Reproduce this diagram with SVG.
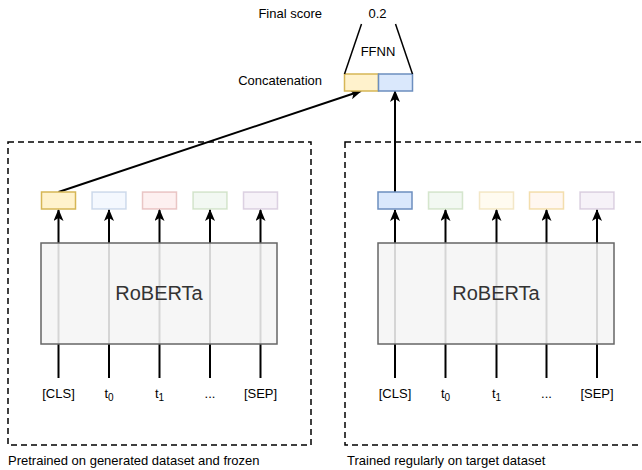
<svg xmlns="http://www.w3.org/2000/svg" width="642" height="470" viewBox="0 0 642 470">
<defs>
<marker id="ah" viewBox="0 0 12 10" refX="11" refY="5" markerWidth="12" markerHeight="10" markerUnits="userSpaceOnUse" orient="auto">
<path d="M0,0 L12,5 L0,10 L3,5 Z" fill="#000"/>
</marker>
</defs>
<style>
text{font-family:"Liberation Sans",Arial,sans-serif;font-size:13px;fill:#000}
.dash{fill:none;stroke:#000;stroke-width:1.5;stroke-dasharray:6 4}
.ln{stroke:#000;stroke-width:2;fill:none}
.arr{stroke:#000;stroke-width:2;fill:none;marker-end:url(#ah)}
.rob{fill:#f5f5f5;fill-opacity:0.87;stroke:#666;stroke-width:1.5}
.robt{font-size:20px;fill:#333;text-anchor:middle}
.tok{text-anchor:middle}
.emb{stroke-width:1.5}
</style>
<g id="frame-left"><rect class="dash" x="8" y="142" width="303" height="303"/><text x="8" y="465">Pretrained on generated dataset and frozen</text></g>
<g id="frame-right"><rect class="dash" x="345" y="142" width="310" height="303"/><text x="347" y="465">Trained regularly on target dataset</text></g>
<g id="connectors">
<line class="ln" x1="58.5" y1="378" x2="58.5" y2="243"/>
<line class="ln" x1="109" y1="378" x2="109" y2="243"/>
<line class="ln" x1="159.5" y1="378" x2="159.5" y2="243"/>
<line class="ln" x1="210" y1="378" x2="210" y2="243"/>
<line class="ln" x1="260.5" y1="378" x2="260.5" y2="243"/>
<line class="ln" x1="395" y1="378" x2="395" y2="243"/>
<line class="ln" x1="445.5" y1="378" x2="445.5" y2="243"/>
<line class="ln" x1="496.5" y1="378" x2="496.5" y2="243"/>
<line class="ln" x1="546.5" y1="378" x2="546.5" y2="243"/>
<line class="ln" x1="597" y1="378" x2="597" y2="243"/>
<line class="arr" x1="58.5" y1="243" x2="58.5" y2="210"/>
<line class="arr" x1="109" y1="243" x2="109" y2="210"/>
<line class="arr" x1="159.5" y1="243" x2="159.5" y2="210"/>
<line class="arr" x1="210" y1="243" x2="210" y2="210"/>
<line class="arr" x1="260.5" y1="243" x2="260.5" y2="210"/>
<line class="arr" x1="395" y1="243" x2="395" y2="210"/>
<line class="arr" x1="445.5" y1="243" x2="445.5" y2="210"/>
<line class="arr" x1="496.5" y1="243" x2="496.5" y2="210"/>
<line class="arr" x1="546.5" y1="243" x2="546.5" y2="210"/>
<line class="arr" x1="597" y1="243" x2="597" y2="210"/>
<line class="arr" x1="58.5" y1="192" x2="361" y2="91"/>
<line class="arr" x1="395" y1="192" x2="395" y2="91"/>
</g>
<g id="roberta-left"><rect class="rob" x="41" y="243" width="236" height="101"/><text class="robt" x="159" y="300">RoBERTa</text></g>
<g id="roberta-right"><rect class="rob" x="378" y="243" width="236" height="101"/><text class="robt" x="496" y="300">RoBERTa</text></g>
<g id="emb-left">
<rect class="emb" x="41.5" y="192" width="34" height="17" fill="#fff2cc" stroke="#d6b656"/>
<rect class="emb" x="92" y="192" width="34" height="17" fill="#dae8fc" stroke="#6c8ebf" fill-opacity="0.3" stroke-opacity="0.3"/>
<rect class="emb" x="142.5" y="192" width="34" height="17" fill="#f8cecc" stroke="#b85450" fill-opacity="0.3" stroke-opacity="0.3"/>
<rect class="emb" x="193" y="192" width="34" height="17" fill="#d5e8d4" stroke="#82b366" fill-opacity="0.3" stroke-opacity="0.3"/>
<rect class="emb" x="243.5" y="192" width="34" height="17" fill="#e1d5e7" stroke="#9673a6" fill-opacity="0.3" stroke-opacity="0.3"/>
</g>
<g id="emb-right">
<rect class="emb" x="378" y="192" width="34" height="17" fill="#dae8fc" stroke="#6c8ebf"/>
<rect class="emb" x="428.5" y="192" width="34" height="17" fill="#d5e8d4" stroke="#82b366" fill-opacity="0.3" stroke-opacity="0.3"/>
<rect class="emb" x="479.5" y="192" width="34" height="17" fill="#fff2cc" stroke="#d6b656" fill-opacity="0.3" stroke-opacity="0.3"/>
<rect class="emb" x="529.5" y="192" width="34" height="17" fill="#ffe6cc" stroke="#d79b00" fill-opacity="0.3" stroke-opacity="0.3"/>
<rect class="emb" x="580" y="192" width="34" height="17" fill="#e1d5e7" stroke="#9673a6" fill-opacity="0.3" stroke-opacity="0.3"/>
</g>
<g id="tokens-left">
<text class="tok" x="58.5" y="398">[CLS]</text>
<text class="tok" x="109" y="398">t<tspan font-size="10" dy="3">0</tspan></text>
<text class="tok" x="159.5" y="398">t<tspan font-size="10" dy="3">1</tspan></text>
<text class="tok" x="210" y="398">...</text>
<text class="tok" x="260.5" y="398">[SEP]</text>
</g>
<g id="tokens-right">
<text class="tok" x="395" y="398">[CLS]</text>
<text class="tok" x="445.5" y="398">t<tspan font-size="10" dy="3">0</tspan></text>
<text class="tok" x="496.5" y="398">t<tspan font-size="10" dy="3">1</tspan></text>
<text class="tok" x="546.5" y="398">...</text>
<text class="tok" x="597" y="398">[SEP]</text>
</g>
<g id="concat">
<rect x="344.5" y="74" width="34" height="17" fill="#fff2cc" stroke="#d6b656" stroke-width="1.5"/>
<rect x="378.5" y="74" width="34" height="17" fill="#dae8fc" stroke="#6c8ebf" stroke-width="1.5"/>
<text x="322" y="85" text-anchor="end">Concatenation</text>
</g>
<g id="ffnn">
<line x1="361.5" y1="24" x2="344.5" y2="74" stroke="#000" stroke-width="1.5"/>
<line x1="395.5" y1="24" x2="412.5" y2="74" stroke="#000" stroke-width="1.5"/>
<text x="378" y="56" text-anchor="middle">FFNN</text>
</g>
<g id="score">
<text x="377.5" y="18" text-anchor="middle">0.2</text>
<text x="322" y="18" text-anchor="end">Final score</text>
</g>
</svg>
